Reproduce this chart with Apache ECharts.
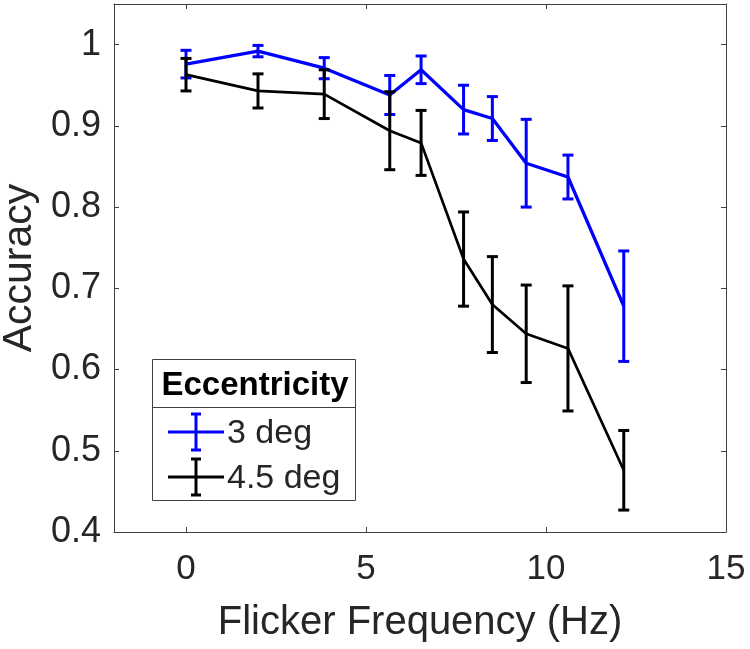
<!DOCTYPE html>
<html>
<head>
<meta charset="utf-8">
<script src="https://cdn.jsdelivr.net/npm/echarts@6/dist/echarts.min.js"></script>
<style>html,body{margin:0;padding:0;background:#fff}#c{width:750px;height:649px}</style>
</head>
<body>
<div id="c"></div>
<script>
// ---- data ----
var freqs = [0, 2, 3.84, 5.66, 6.53, 7.71, 8.51, 9.45, 10.61, 12.16];
var acc3 = [0.976, 0.992, 0.971, 0.938, 0.969, 0.920, 0.909, 0.854, 0.837, 0.678];
var err3 = [0.017, 0.007, 0.013, 0.024, 0.017, 0.030, 0.027, 0.054, 0.027, 0.068];
var acc45 = [0.963, 0.943, 0.939, 0.894, 0.879, 0.736, 0.680, 0.644, 0.626, 0.476];
var err45 = [0.020, 0.021, 0.030, 0.048, 0.040, 0.058, 0.059, 0.060, 0.077, 0.049];
var xTicks = [0, 5, 10, 15];
var yTicks = [0.4, 0.5, 0.6, 0.7, 0.8, 0.9, 1];
var seriesNames = ['3 deg', '4.5 deg'];
var legendTitle = 'Eccentricity';

var FONT = '"Liberation Sans", Arial, Helvetica, sans-serif';
var TXT = '#262626';
var AX = '#404040';

function lineData(acc) { return freqs.map(function (f, i) { return [f, acc[i]]; }); }
function errData(acc, err) { return freqs.map(function (f, i) { return [f, acc[i] - err[i], acc[i] + err[i]]; }); }

function errRender(color, lw) {
  return function (params, api) {
    var x = api.value(0), lo = api.value(1), hi = api.value(2);
    var p1 = api.coord([x, hi]), p2 = api.coord([x, lo]);
    var hw = 5.5;
    var st = { stroke: color, lineWidth: lw };
    return {
      type: 'group',
      children: [
        { type: 'line', shape: { x1: p1[0], y1: p1[1], x2: p2[0], y2: p2[1] }, style: st },
        { type: 'line', shape: { x1: p1[0] - hw, y1: p1[1], x2: p1[0] + hw, y2: p1[1] }, style: st },
        { type: 'line', shape: { x1: p2[0] - hw, y1: p2[1], x2: p2[0] + hw, y2: p2[1] }, style: st }
      ]
    };
  };
}

var chart = echarts.init(document.getElementById('c'), null, { renderer: 'canvas' });

var gridL = 114, gridT = 4, gridR = 24, gridB = 117;

function legendItem(y, color, lw, text) {
  var cx = 196, half = 18;
  var st = { stroke: color, lineWidth: lw };
  return [
    { type: 'line', z: 100, shape: { x1: 168, y1: y, x2: 224, y2: y }, style: st },
    { type: 'line', z: 100, shape: { x1: cx, y1: y - half, x2: cx, y2: y + half }, style: st },
    { type: 'line', z: 100, shape: { x1: cx - 5, y1: y - half, x2: cx + 5, y2: y - half }, style: st },
    { type: 'line', z: 100, shape: { x1: cx - 5, y1: y + half, x2: cx + 5, y2: y + half }, style: st },
    { type: 'text', z: 100, x: 227, y: y + 2, style: { text: text, fill: TXT, font: '34px ' + FONT, textVerticalAlign: 'middle', textAlign: 'left' } }
  ];
}

var graphics = [
  { type: 'rect', z: 99, shape: { x: 152.5, y: 359.5, width: 203, height: 141 }, style: { fill: '#fff', stroke: AX, lineWidth: 1 } },
  { type: 'line', z: 100, shape: { x1: 152.5, y1: 407.5, x2: 355.5, y2: 407.5 }, style: { stroke: AX, lineWidth: 1 } },
  { type: 'text', z: 100, x: 255, y: 386, style: { text: legendTitle, fill: '#000', font: 'bold 33px ' + FONT, textAlign: 'center', textVerticalAlign: 'middle' } }
].concat(legendItem(432, '#0000ff', 3, seriesNames[0]))
 .concat(legendItem(477, '#000000', 3, seriesNames[1]));

var option = {
  animation: false,
  backgroundColor: '#fff',
  grid: { left: gridL, top: gridT, right: gridR, bottom: gridB, containLabel: false, outerBoundsMode: 'none' },
  xAxis: [
    {
      type: 'value', min: -2, max: 15, position: 'bottom',
      name: 'Flicker Frequency (Hz)', nameLocation: 'middle', nameGap: 71,
      nameTextStyle: { fontFamily: FONT, fontSize: 40, color: TXT },
      axisLine: { show: true, onZero: false, lineStyle: { color: AX, width: 1 } },
      axisTick: { show: true, inside: true, length: 5, customValues: xTicks, lineStyle: { color: AX } },
      axisLabel: { show: true, customValues: xTicks, margin: 20, fontFamily: FONT, fontSize: 35, color: TXT, formatter: function (v) { return String(v); } },
      splitLine: { show: false }
    },
    {
      type: 'value', min: -2, max: 15, position: 'top',
      axisLine: { show: true, onZero: false, lineStyle: { color: AX, width: 1 } },
      axisTick: { show: true, inside: true, length: 5, customValues: xTicks, lineStyle: { color: AX } },
      axisLabel: { show: false },
      splitLine: { show: false }
    }
  ],
  yAxis: [
    {
      type: 'value', min: 0.4, max: 1.05, position: 'left',
      name: 'Accuracy', nameLocation: 'middle', nameGap: 68, nameRotate: 90,
      nameTextStyle: { fontFamily: FONT, fontSize: 41, color: TXT },
      axisLine: { show: true, onZero: false, lineStyle: { color: AX, width: 1 } },
      axisTick: { show: true, inside: true, length: 5, customValues: yTicks, lineStyle: { color: AX } },
      axisLabel: { show: true, customValues: yTicks, margin: 13, fontFamily: FONT, fontSize: 36, color: TXT, formatter: function (v) { return String(Math.round(v * 10) / 10); } },
      splitLine: { show: false }
    },
    {
      type: 'value', min: 0.4, max: 1.05, position: 'right',
      axisLine: { show: true, onZero: false, lineStyle: { color: AX, width: 1 } },
      axisTick: { show: true, inside: true, length: 5, customValues: yTicks, lineStyle: { color: AX } },
      axisLabel: { show: false },
      splitLine: { show: false }
    }
  ],
  series: [
    { name: seriesNames[0], type: 'line', xAxisIndex: 0, yAxisIndex: 0, data: lineData(acc3), symbol: 'none', lineStyle: { color: '#0000ff', width: 3.3 }, z: 2 },
    { name: seriesNames[0] + ' err', type: 'custom', xAxisIndex: 0, yAxisIndex: 0, data: errData(acc3, err3), renderItem: errRender('#0000ff', 3), encode: { x: 0, y: [1, 2] }, z: 3 },
    { name: seriesNames[1], type: 'line', xAxisIndex: 0, yAxisIndex: 0, data: lineData(acc45), symbol: 'none', lineStyle: { color: '#000000', width: 2.7 }, z: 4 },
    { name: seriesNames[1] + ' err', type: 'custom', xAxisIndex: 0, yAxisIndex: 0, data: errData(acc45, err45), renderItem: errRender('#000000', 3), encode: { x: 0, y: [1, 2] }, z: 5 }
  ],
  graphic: graphics
};
chart.setOption(option);
</script>
</body>
</html>
